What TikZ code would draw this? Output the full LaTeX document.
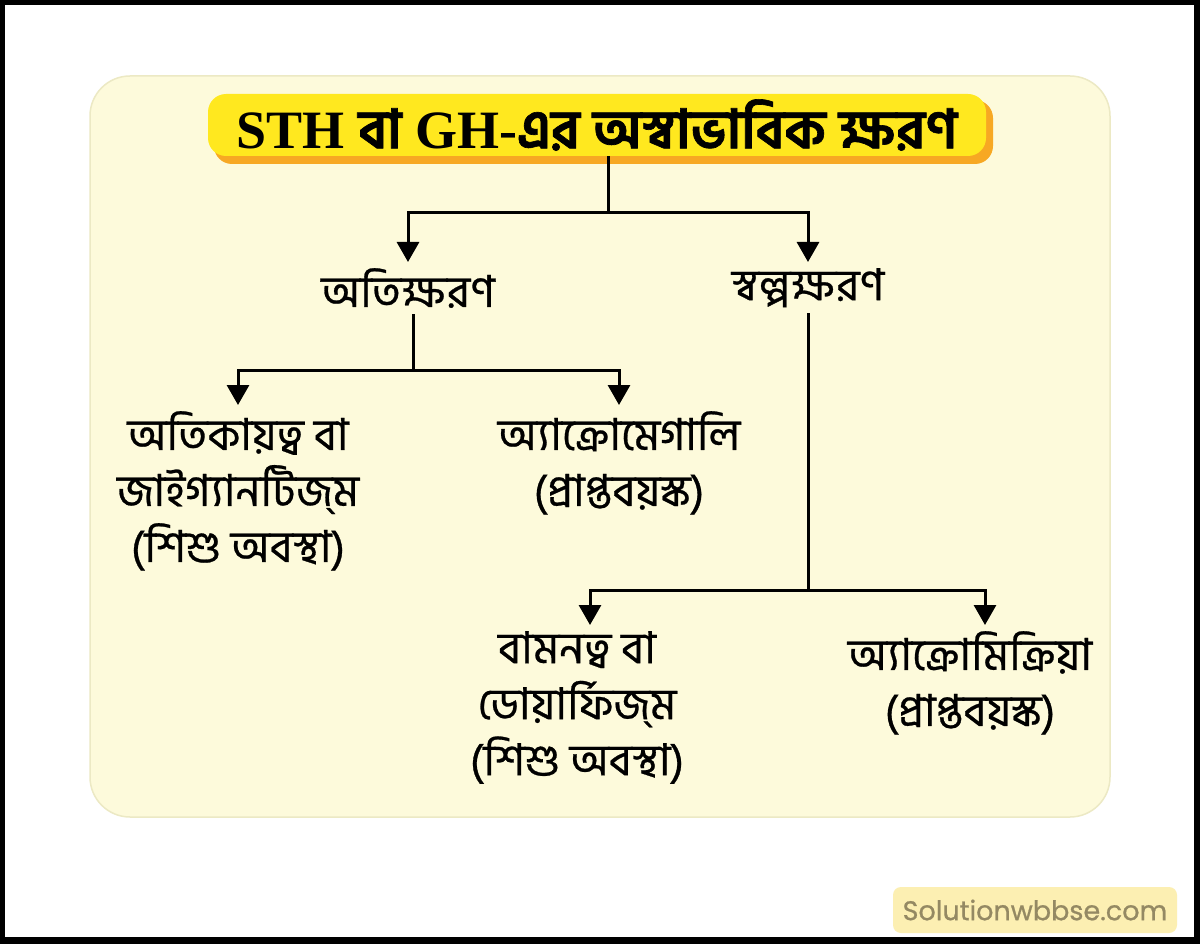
\documentclass[tikz,border=0pt]{standalone}
\usepackage{fontspec}
\usetikzlibrary{arrows.meta}
\setmainfont{Liberation Serif}
\newfontfamily\bn[Script=Bengali,FakeBold=0.6]{Hind Siliguri}
\newfontfamily\bnt[Script=Bengali,FakeBold=1.2]{Hind Siliguri}
\newfontfamily\wmfont[FakeBold=0.8]{Poppins}
\definecolor{panelfill}{HTML}{FDFADB}
\definecolor{panelline}{HTML}{ECE9C4}
\definecolor{titleyellow}{HTML}{FFE81F}
\definecolor{titleorange}{HTML}{F7A823}
\definecolor{wmfill}{HTML}{FCEFB2}
\definecolor{wmtext}{HTML}{948963}
\tikzset{
  lbl/.style={inner xsep=0pt, inner ysep=6pt, align=center, text=black,
    font=\bn\fontsize{44}{56}\selectfont},
  link/.style={line width=3pt, draw=black},
  arr/.style={link, -{Triangle[width=22pt,length=20pt]}},
}
\begin{document}
\begin{tikzpicture}[x=1pt,y=-1pt]
\useasboundingbox (0,0) rectangle (1200,944);
% frame
\fill[black] (0,0) rectangle (1200,944);
\fill[white] (5,5) rectangle (1194,937);
% panel
\fill[panelfill, draw=panelline, line width=1.5pt, rounded corners=40pt] (90,76) rectangle (1110,817);
% title
\fill[titleorange, rounded corners=18pt] (214,100) rectangle (993,164);
\node[fill=titleyellow, rounded corners=18pt, minimum width=778pt, minimum height=62pt, inner sep=0pt] (title) at (597,125)
  {\fontsize{54}{60}\selectfont\bfseries STH {\bnt বা} GH-{\bnt এর অস্বাভাবিক ক্ষরণ}};
% level 1
\node[lbl, anchor=north] (ati) at (408,262) {অতিক্ষরণ};
\node[lbl, anchor=north] (svalpa) at (808,262) {স্বল্পক্ষরণ};
\coordinate (j1) at (608,213);
\draw[link] ([xshift=11pt]title.south) -- (j1);
\draw[arr] (j1) -| (ati.north);
\draw[arr] (j1) -| (svalpa.north);
% level 2 left
\node[lbl, anchor=north] (giant) at (238,405) {অতিকায়ত্ব বা\\জাইগ্যানটিজ্ম\\(শিশু অবস্থা)};
\node[lbl, anchor=north] (mega) at (619,405) {অ্যাক্রোমেগালি\\(প্রাপ্তবয়স্ক)};
\coordinate (j2) at (413,370);
\draw[link] ([xshift=5pt]ati.south) -- (j2);
\draw[arr] (j2) -| (giant.north);
\draw[arr] (j2) -| (mega.north);
% level 2 right
\node[lbl, anchor=north] (dwarf) at (577,625) {বামনত্ব বা\\ডোয়ার্ফিজ্ম\\(শিশু অবস্থা)};
\node[lbl, anchor=north] (micro) at (970,625) {অ্যাক্রোমিক্রিয়া\\(প্রাপ্তবয়স্ক)};
\coordinate (j3) at (808,590);
\draw[link] (svalpa.south) -- (j3);
\draw[arr] (j3) -| ([xshift=13pt]dwarf.north);
\draw[arr] (j3) -| ([xshift=15pt]micro.north);
% watermark
\node[fill=wmfill, rounded corners=8pt, minimum width=284pt, minimum height=46pt, inner sep=0pt,
  font=\wmfont\fontsize{27}{30}\selectfont, text=wmtext] (wm) at (1035,910) {Solutionwbbse.com};
\end{tikzpicture}
\end{document}
